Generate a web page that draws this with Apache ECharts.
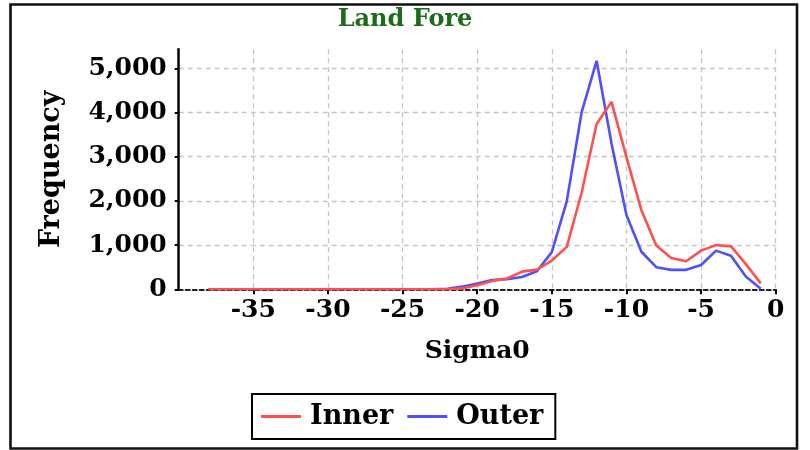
<!DOCTYPE html>
<html>
<head>
<meta charset="utf-8">
<script src="https://cdn.jsdelivr.net/npm/echarts@6/dist/echarts.min.js"></script>
<style>
html,body{margin:0;padding:0;background:#fff;}
#chart{width:810px;height:450px;}
</style>
</head>
<body>
<div id="chart"></div>
<script>
const titleText = 'Land Fore';
const xAxisName = 'Sigma0';
const yAxisName = 'Frequency';
const seriesNames = ['Inner', 'Outer'];
const sigma = [-38,-37,-36,-35,-34,-33,-32,-31,-30,-29,-28,-27,-26,-25,-24,-23,-22,-21,-20,-19,-18,-17,-16,-15,-14,-13,-12,-11,-10,-9,-8,-7,-6,-5,-4,-3,-2,-1];
const inner = [0,0,0,0,0,0,0,0,0,0,0,0,0,0,0,0,0,20,90,190,245,400,445,650,960,2190,3740,4240,2990,1790,990,710,635,875,1000,975,570,135];
const outer = [0,0,0,0,0,0,0,0,0,0,0,0,0,0,0,0,10,60,130,210,230,280,410,840,1990,4010,5170,3300,1680,850,500,440,440,550,875,760,290,15];

const font = 'DejaVu Serif';
const chart = echarts.init(document.getElementById('chart'));
const pairs = arr => sigma.map((s, i) => [s, arr[i]]);

chart.setOption({
  backgroundColor: '#fff',
  animation: false,
  title: {
    text: titleText,
    left: 'center',
    top: 3,
    textStyle: {color: '#1a6b1a', fontFamily: font, fontWeight: 'bold', fontSize: 24}
  },
  graphic: [{
    type: 'rect',
    shape: {x: 10.5, y: 4.5, width: 786.5, height: 444},
    style: {fill: 'none', stroke: '#111', lineWidth: 2.6},
    silent: true
  }],
  legend: {
    data: seriesNames,
    left: 252,
    top: 394,
    icon: 'rect',
    itemWidth: 40,
    itemHeight: 3,
    itemGap: 14,
    padding: [9, 12, 9, 9],
    borderColor: '#000',
    borderWidth: 2,
    textStyle: {fontFamily: font, fontWeight: 'bold', fontSize: 27, color: '#000', padding: [0, 0, 0, 4]}
  },
  grid: {left: 178.7, right: 34.3, top: 49.3, bottom: 160.7, containLabel: false},
  xAxis: {
    type: 'value',
    min: -40,
    max: 0,
    interval: 5,
    name: xAxisName,
    nameLocation: 'middle',
    nameGap: 50,
    nameTextStyle: {fontFamily: font, fontWeight: 'bold', fontSize: 25, color: '#000'},
    axisLine: {show: true, onZero: false, lineStyle: {color: '#222', width: 2, type: [4, 3]}},
    axisTick: {show: true, length: 5, lineStyle: {color: '#000', width: 2}},
    axisLabel: {
      fontFamily: font, fontWeight: 'bold', fontSize: 25, color: '#000', margin: 9,
      showMinLabel: false
    },
    splitLine: {show: true, showMinLine: false, lineStyle: {color: '#c4c4c4', type: [5, 4], width: 1.3}}
  },
  yAxis: {
    type: 'value',
    min: 0,
    max: 5430,
    interval: 1000,
    name: yAxisName,
    nameLocation: 'middle',
    nameGap: 113,
    nameTextStyle: {fontFamily: font, fontWeight: 'bold', fontSize: 27, color: '#000'},
    axisLine: {show: true, onZero: false, lineStyle: {color: '#000', width: 2.5}},
    axisTick: {show: true, length: 4, lineStyle: {color: '#000', width: 2}},
    axisLabel: {
      fontFamily: font, fontWeight: 'bold', fontSize: 25, color: '#000', margin: 12,
      showMaxLabel: false,
      formatter: v => v.toLocaleString('en-US')
    },
    splitLine: {show: true, showMinLine: false, showMaxLine: false, lineStyle: {color: '#c4c4c4', type: [5, 4], width: 1.3}}
  },
  series: [
    {
      name: seriesNames[0], type: 'line', data: pairs(inner), showSymbol: false,
      color: '#ff4f4f', lineStyle: {width: 2.6, color: '#ff4f4f'}, z: 3
    },
    {
      name: seriesNames[1], type: 'line', data: pairs(outer), showSymbol: false,
      color: '#4f4fff', lineStyle: {width: 2.6, color: '#4f4fff'}, z: 2
    }
  ]
});
</script>
</body>
</html>
